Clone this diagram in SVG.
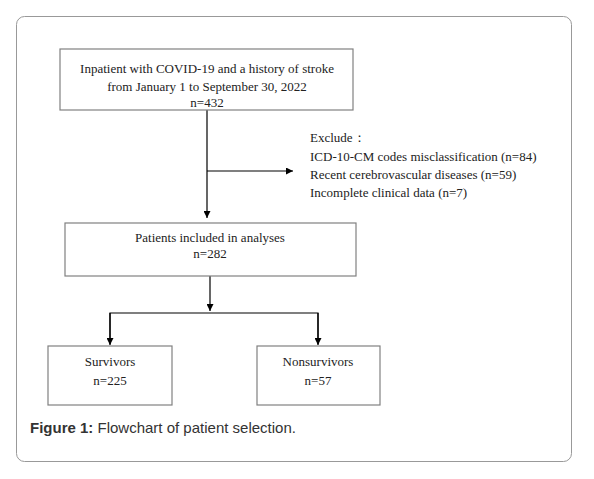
<svg xmlns="http://www.w3.org/2000/svg" width="594" height="479" viewBox="0 0 594 479">
<defs>
<marker id="ah" viewBox="0 0 10 10" refX="10" refY="5" markerWidth="7" markerHeight="7" markerUnits="userSpaceOnUse" orient="auto"><path d="M0,0 L10,5 L0,10 z" fill="#000"/></marker>
<style>
.box{fill:#fff;stroke:#808080;stroke-width:1.2}
.t{font-family:"Liberation Serif","DejaVu Serif",serif;font-size:13px;fill:#222}
.c{text-anchor:middle}
.ln{fill:none;stroke:#000;stroke-width:1.2}
.cap{font-family:"Liberation Sans",Arial,sans-serif;font-size:15px;fill:#333}
</style>
</defs>
<rect width="594" height="479" fill="#fff"/>
<rect x="16.5" y="16.5" width="555" height="445" rx="8" fill="#fff" stroke="#999" stroke-width="1"/>
<g id="connectors">
<path class="ln" d="M207,110 V218" marker-end="url(#ah)"/>
<path class="ln" d="M207,171 H293" marker-end="url(#ah)"/>
<path class="ln" d="M210,276 V311" stroke="#666" marker-end="url(#ah)"/>
<path class="ln" d="M110,344 V313 H318 V344"/>
<path class="ln" d="M110,313 V345" marker-end="url(#ah)"/>
<path class="ln" d="M318,313 V345" marker-end="url(#ah)"/>
</g>
<g id="start">
<rect class="box" x="60" y="49" width="293" height="61"/>
<text class="t c" x="207" y="73">Inpatient with COVID-19 and a history of stroke</text>
<text class="t c" x="207" y="91">from January 1 to September 30, 2022</text>
<text class="t c" x="207" y="107">n=432</text>
</g>
<g id="exclude">
<text class="t" x="310" y="142">Exclude：</text>
<text class="t" x="310" y="161">ICD-10-CM codes misclassification (n=84)</text>
<text class="t" x="310" y="179">Recent cerebrovascular diseases (n=59)</text>
<text class="t" x="310" y="197">Incomplete clinical data (n=7)</text>
</g>
<g id="included">
<rect class="box" x="65" y="223" width="291" height="53"/>
<text class="t c" x="210" y="242">Patients included in analyses</text>
<text class="t c" x="210" y="258">n=282</text>
</g>
<g id="survivors">
<rect class="box" x="48" y="346" width="124" height="59"/>
<text class="t c" x="110" y="366">Survivors</text>
<text class="t c" x="110" y="385">n=225</text>
</g>
<g id="nonsurvivors">
<rect class="box" x="257" y="346" width="123" height="59"/>
<text class="t c" x="318" y="366">Nonsurvivors</text>
<text class="t c" x="318" y="385">n=57</text>
</g>
<text class="cap" x="30" y="433"><tspan font-weight="bold">Figure 1:</tspan> Flowchart of patient selection.</text>
</svg>
